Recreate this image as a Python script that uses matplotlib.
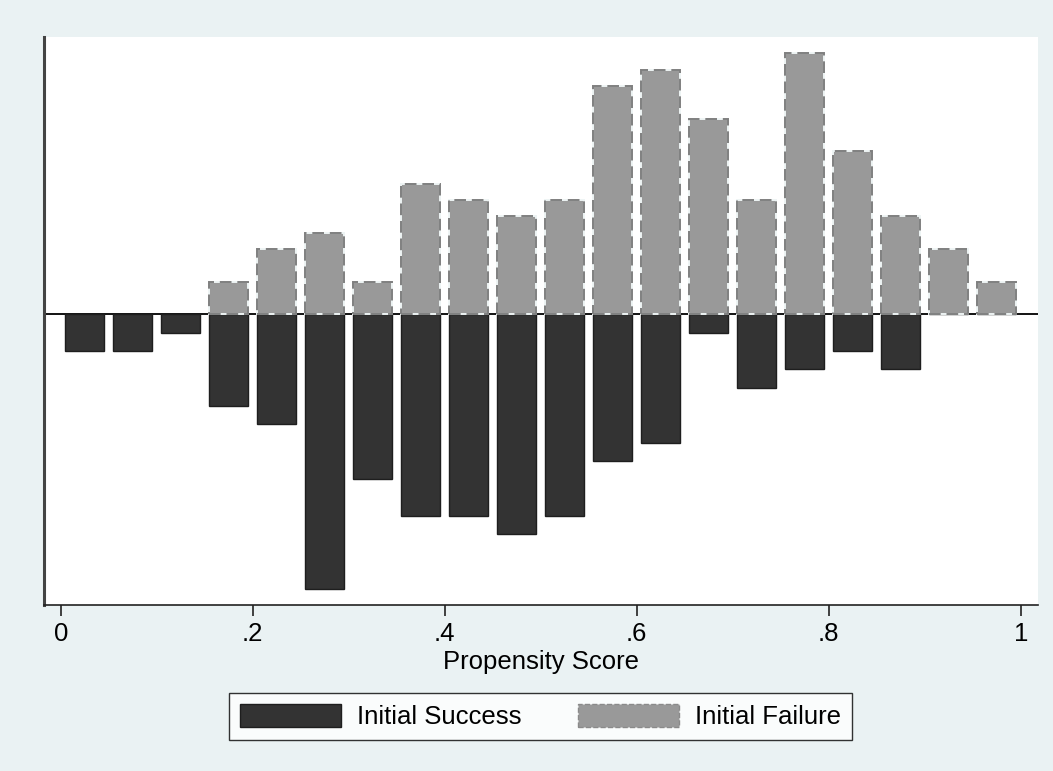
import numpy as np
import matplotlib.pyplot as plt
from matplotlib.patches import Patch

plt.rcParams['font.family'] = ['Liberation Sans', 'DejaVu Sans']

# histogram bins of propensity score (width .05)
bin_centers = np.arange(0.025, 1.0, 0.05)
# counts
success_counts = [2, 2, 1, 5, 6, 15, 9, 11, 11, 12, 11, 8, 7, 1, 4, 3, 2, 3, 0, 0]
failure_counts = [0, 0, 0, 2, 4, 5, 2, 8, 7, 6, 7, 14, 15, 12, 7, 16, 10, 6, 4, 2]
xtick_vals = [0, 0.2, 0.4, 0.6, 0.8, 1]
xtick_labels = ["0", ".2", ".4", ".6", ".8", "1"]

success = np.array(success_counts) / np.sum(success_counts)
failure = np.array(failure_counts) / np.sum(failure_counts)

bg = '#eaf2f3'
dark = '#333333'
grey = '#999999'
w = 0.0405
fs = 18.5

fig = plt.figure(figsize=(10.53, 7.71), dpi=100, facecolor=bg)
ax = fig.add_axes([0.0415, 0.2153, 0.944, 0.7367])
ax.set_facecolor('white')

ax.axhline(0, color='black', lw=1.3, zorder=1)

# success bars pointing down
ax.bar(bin_centers, -success, width=w, color=dark, edgecolor='#1e1e1e',
       linewidth=1.0, zorder=2)

# failure bars pointing up, dashed outline with light gaps
mask = failure > 0
ax.bar(bin_centers[mask], failure[mask], width=w, color=grey,
       edgecolor='#eef4f4', linewidth=1.4, zorder=3)
ax.bar(bin_centers[mask], failure[mask], width=w, color='none',
       edgecolor='#7f7f7f', linewidth=1.4, linestyle=(0, (6, 3)), zorder=4)

ax.set_xlim(-0.0177, 1.0177)
ax.set_ylim(-0.1404, 0.1339)

ax.set_xticks(xtick_vals)
ax.set_xticklabels(xtick_labels, fontsize=fs)
ax.set_yticks([])
ax.tick_params(axis='x', length=8, width=1.2, color='#222222', pad=4)

for side in ['top', 'right']:
    ax.spines[side].set_visible(False)
ax.spines['left'].set_color('#444444')
ax.spines['left'].set_linewidth(2.2)
ax.spines['bottom'].set_color('#222222')
ax.spines['bottom'].set_linewidth(1.2)

ax.set_xlabel("Propensity Score", fontsize=fs, labelpad=3)

handles = [Patch(facecolor=dark, edgecolor='#1e1e1e', label='Initial Success'),
           Patch(facecolor=grey, edgecolor='#8a8a8a', linestyle='--', label='Initial Failure')]
leg = fig.legend(handles=handles, loc='center', bbox_to_anchor=(0.5133, 0.0707),
                 ncol=2, fontsize=fs, frameon=True, fancybox=False,
                 handlelength=3.93, handleheight=1.05, columnspacing=2.2,
                 handletextpad=0.62, borderpad=0.42, borderaxespad=0)
leg.get_frame().set_edgecolor('black')
leg.get_frame().set_linewidth(1.0)
leg.get_frame().set_facecolor('white')

fig.savefig('out.png', dpi=100, facecolor=bg)
